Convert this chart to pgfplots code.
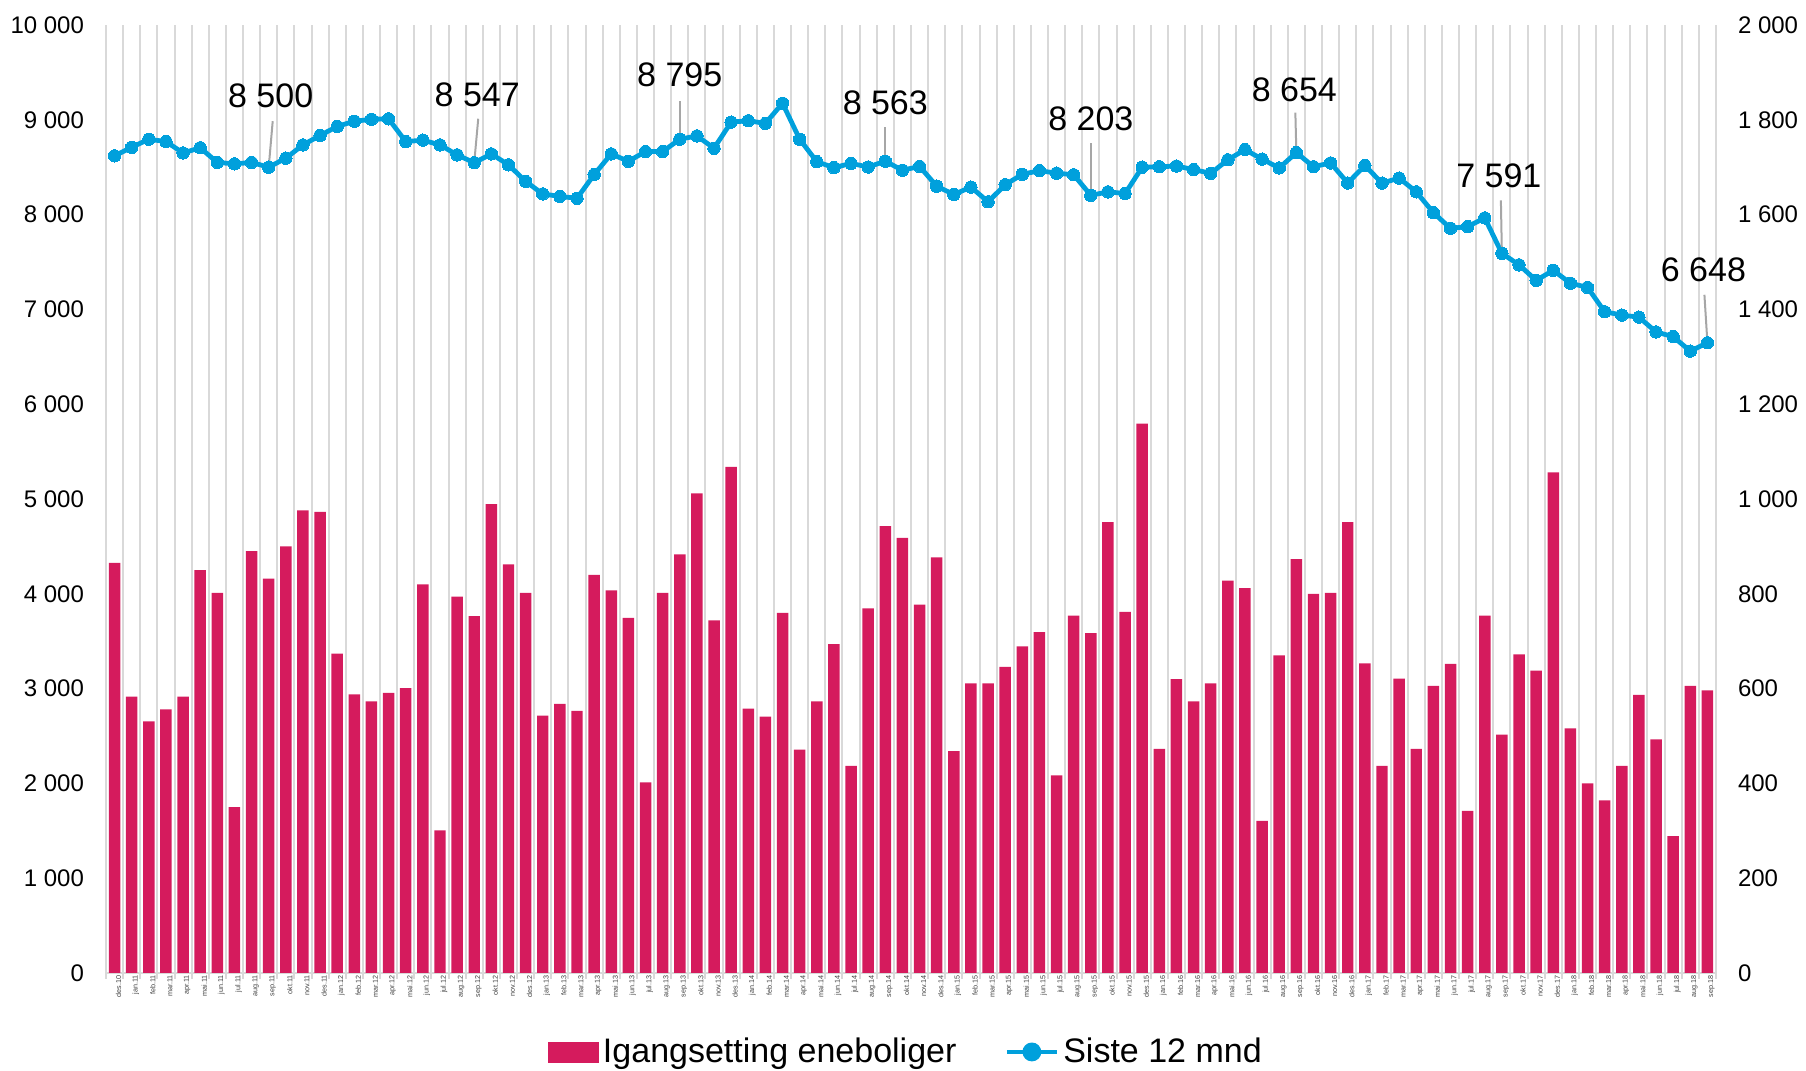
\documentclass[border=0pt]{standalone}
\usepackage{fontspec}
\setmainfont{Liberation Sans}
\usepackage{pgfplots}
\usepackage{pgfplotstable}
\pgfplotsset{compat=1.18}
\definecolor{barcol}{RGB}{213,27,93}
\definecolor{linecol}{RGB}{0,160,220}
\definecolor{gridcol}{RGB}{217,217,217}
\definecolor{leadcol}{RGB}{166,166,166}

\pgfplotstableread{
idx bars line
0 865 8620
1 583 8710
2 531 8795
3 556 8770
4 583 8650
5 850 8705
6 802 8550
7 350 8535
8 890 8550
9 832 8500
10 900 8595
11 976 8735
12 973 8835
13 674 8930
14 588 8985
15 573 9005
16 591 9010
17 601 8770
18 820 8785
19 301 8735
20 794 8630
21 753 8547
22 989 8640
23 862 8525
24 802 8350
25 543 8218
26 568 8192
27 553 8172
28 840 8422
29 807 8640
30 749 8562
31 402 8665
32 802 8665
33 883 8795
34 1012 8830
35 744 8700
36 1068 8975
37 558 8990
38 541 8962
39 760 9175
40 471 8795
41 573 8558
42 694 8495
43 437 8540
44 769 8502
45 943 8563
46 918 8468
47 777 8508
48 877 8300
49 468 8212
50 611 8290
51 611 8135
52 646 8315
53 689 8425
54 719 8463
55 417 8437
56 754 8420
57 717 8203
58 951 8240
59 762 8222
60 1159 8500
61 473 8505
62 620 8512
63 573 8475
64 611 8435
65 828 8578
66 812 8685
67 321 8585
68 670 8492
69 873 8654
70 800 8505
71 802 8545
72 951 8333
73 653 8518
74 437 8332
75 621 8385
76 473 8240
77 606 8020
78 652 7855
79 342 7873
80 754 7965
81 503 7591
82 672 7470
83 638 7306
84 1056 7412
85 516 7276
86 400 7232
87 364 6975
88 437 6940
89 587 6918
90 493 6762
91 289 6712
92 606 6560
93 596 6648
}\datatable

\begin{document}
\begin{tikzpicture}
\useasboundingbox (0,0) rectangle (903pt,535.5pt);
% bars, right axis
\begin{axis}[
  at={(53pt,49pt)}, anchor=south west,
  scale only axis, width=805pt, height=474pt,
  xmin=-0.5, xmax=93.5, ymin=0, ymax=2000,
  enlargelimits=false,
  scaled y ticks=false,
  axis y line*=right, axis x line*=bottom,
  y axis line style={draw=none},
  x axis line style={draw=gridcol, line width=1pt},
  ytick={0,200,...,2000},
  xtick={0,...,93},
  xticklabels={des.10,
    jan.11,feb.11,mar.11,apr.11,mai.11,jun.11,jul.11,aug.11,sep.11,okt.11,nov.11,des.11,
    jan.12,feb.12,mar.12,apr.12,mai.12,jun.12,jul.12,aug.12,sep.12,okt.12,nov.12,des.12,
    jan.13,feb.13,mar.13,apr.13,mai.13,jun.13,jul.13,aug.13,sep.13,okt.13,nov.13,des.13,
    jan.14,feb.14,mar.14,apr.14,mai.14,jun.14,jul.14,aug.14,sep.14,okt.14,nov.14,des.14,
    jan.15,feb.15,mar.15,apr.15,mai.15,jun.15,jul.15,aug.15,sep.15,okt.15,nov.15,des.15,
    jan.16,feb.16,mar.16,apr.16,mai.16,jun.16,jul.16,aug.16,sep.16,okt.16,nov.16,des.16,
    jan.17,feb.17,mar.17,apr.17,mai.17,jun.17,jul.17,aug.17,sep.17,okt.17,nov.17,des.17,
    jan.18,feb.18,mar.18,apr.18,mai.18,jun.18,jul.18,aug.18,sep.18},
  minor xtick={-0.5,0.5,...,93.5},
  xminorgrids=true,
  minor grid style={draw=gridcol, line width=1pt},
  major tick length=0pt, minor tick length=3pt,
  tick align=outside,
  tick style={draw=gridcol, line width=1pt},
  xticklabel style={rotate=90, anchor=east, font=\fontsize{3.6}{4}\selectfont, text=black!75, inner sep=1pt, yshift=-2pt},
  yticklabel style={font=\fontsize{12}{14}\selectfont, xshift=7.5pt},
  /pgf/number format/1000 sep={\ },
  /pgf/number format/assume math mode=true,
]
\addplot[ybar, bar width=0.67, fill=barcol, draw=none] table[x=idx, y=bars] {\datatable};
\end{axis}
% line, left axis
\begin{axis}[
  at={(53pt,49pt)}, anchor=south west,
  scale only axis, width=805pt, height=474pt,
  xmin=-0.5, xmax=93.5, ymin=0, ymax=10000,
  enlargelimits=false,
  scaled y ticks=false,
  axis y line*=left, axis x line=none,
  y axis line style={draw=none},
  ytick={0,1000,...,10000},
  major tick length=0pt,
  yticklabel style={font=\fontsize{12}{14}\selectfont, xshift=-7.5pt},
  /pgf/number format/1000 sep={\ },
  /pgf/number format/assume math mode=true,
  clip=false,
  legend style={at={(0.4975,-0.0833)}, anchor=center, draw=none, fill=none,
    font=\fontsize{17}{20}\selectfont, /tikz/every even column/.append style={column sep=22pt}},
  legend columns=2,
  legend cell align=left,
]
\addlegendimage{legend image code/.code={\fill[barcol] (0pt,-5pt) rectangle (25pt,5pt);}}
\addlegendentry{Igangsetting eneboliger}
\addplot[linecol, line width=2.4pt, mark=*, mark size=3.1pt,
  mark options={fill=linecol, draw=linecol, line width=0pt},
  legend image code/.code={\draw[linecol, line width=2.4pt] (0pt,0pt) -- (25pt,0pt); \fill[linecol] (12.5pt,0pt) circle (3.5pt);}]
  table[x=idx, y=line] {\datatable};
\addlegendentry{Siste 12 mnd}
% data labels
\begin{scope}[every node/.style={font=\fontsize{17}{20}\selectfont}]
\draw[leadcol, line width=1pt] (axis cs:9,8500) -- ++(2pt,23pt);
\node[xshift=1pt, yshift=35.5pt] at (axis cs:9,8500) {8 500};
\draw[leadcol, line width=1pt] (axis cs:21,8547) -- ++(2pt,22pt);
\node[xshift=1.5pt, yshift=34pt] at (axis cs:21,8547) {8 547};
\draw[leadcol, line width=1pt] (axis cs:33,8795) -- ++(0pt,19pt);
\node[yshift=32pt] at (axis cs:33,8795) {8 795};
\draw[leadcol, line width=1pt] (axis cs:45,8563) -- ++(0pt,17pt);
\node[yshift=29pt] at (axis cs:45,8563) {8 563};
\draw[leadcol, line width=1pt] (axis cs:57,8203) -- ++(0pt,26pt);
\node[yshift=38.5pt] at (axis cs:57,8203) {8 203};
\draw[leadcol, line width=1pt] (axis cs:69,8654) -- ++(-0.5pt,20pt);
\node[xshift=-1pt, yshift=31.5pt] at (axis cs:69,8654) {8 654};
\draw[leadcol, line width=1pt] (axis cs:81,7591) -- ++(-0.5pt,26.5pt);
\node[xshift=-1.5pt, yshift=39pt] at (axis cs:81,7591) {7 591};
\draw[leadcol, line width=1pt] (axis cs:93,6648) -- ++(-1.5pt,24pt);
\node[xshift=-2pt, yshift=36.5pt] at (axis cs:93,6648) {6 648};
\end{scope}
\end{axis}
\end{tikzpicture}
\end{document}
